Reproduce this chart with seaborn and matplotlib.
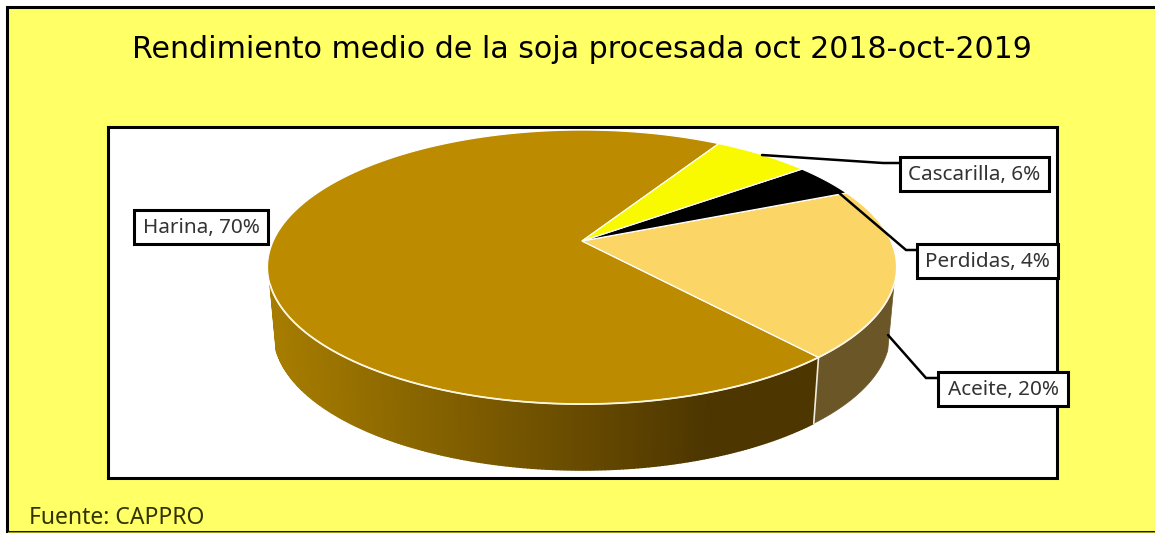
# Rendimiento medio de la soja - pie 3D hecho a mano sobre ax.pie
import numpy as np
import seaborn as sns
import matplotlib.pyplot as plt
from matplotlib.colors import LinearSegmentedColormap
from matplotlib.patches import Polygon, Rectangle

categorias = ['Harina', 'Aceite', 'Perdidas', 'Cascarilla']
valores = [70, 20, 4, 6]
colores = ['#BC8B00', '#FBD566', '#000000', '#F9F900']
color_lateral_aceite = '#6B5628'
titulo = 'Rendimiento medio de la soja procesada oct 2018-oct-2019'
fuente = 'Fuente: CAPPRO'

sns.set_theme(style='white')
plt.rcParams['font.family'] = ['DejaVu Sans']

W, H = 1155, 533
fig = plt.figure(figsize=(W / 100, H / 100), dpi=100, facecolor='white')
ax = fig.add_axes([0, 0, 1, 1])
ax.set_xlim(0, W)
ax.set_ylim(H, 0)
ax.axis('off')

# el pie real, solo para sacar los angulos de cada porcion
aux = fig.add_axes([0, 0, 0.1, 0.1])
wedges, _ = aux.pie(valores, colors=colores, startangle=59)
angulos = [(w.theta1, w.theta2) for w in wedges]
aux.set_visible(False)


# perspectiva: circulo unidad -> elipse en pixeles, con el centro desplazado
def proyectar(theta):
    t = np.radians(theta)
    u, v = np.cos(t), np.sin(t)
    w = 1 + 0.19 * v
    return 582 + 308.8 * u / w, (241 - 86.3 * v) / w


def borde_inferior(x, y):
    return 582 + (x - 582) * 0.98, y + 66


# fondo
ax.add_patch(Rectangle((7, 7), W, H - 8, fc='#FFFF66', ec='black', lw=2.2, zorder=0))
ax.plot([8, W], [532, 532], color='#99992E', lw=1, zorder=1)
ax.add_patch(Rectangle((108, 127), 949, 351, fc='white', ec='black', lw=2.2, zorder=1))

# pared lateral de harina con degradado segun x
t1_har, t2_har = angulos[0]
ts = np.linspace(198, t2_har, 200)
degradado = LinearSegmentedColormap.from_list('lateral', sns.blend_palette(['#A67C00', '#4D3600'], n_colors=8))
for i in range(len(ts) - 1):
    x, y = proyectar(np.array([ts[i], ts[i + 1]]))
    xb, yb = borde_inferior(x, y)
    c = degradado(np.clip((x.mean() - 275) / (710 - 275), 0, 1))
    pts = np.column_stack([np.r_[x, xb[::-1]], np.r_[y, yb[::-1]]])
    ax.add_patch(Polygon(pts, fc=c, ec=c, lw=1, zorder=2))

# pared lateral de aceite
t_ac = np.linspace(angulos[1][0], 342, 30)
x, y = proyectar(t_ac)
xb, yb = borde_inferior(x, y)
pts = np.column_stack([np.r_[x, xb[::-1]], np.r_[y, yb[::-1]]])
ax.add_patch(Polygon(pts, fc=color_lateral_aceite, ec=color_lateral_aceite, lw=0.5, zorder=2))

# linea blanca entre las dos paredes
x0, y0 = proyectar(np.array([t2_har]))
xb0, yb0 = borde_inferior(x0, y0)
ax.plot([x0[0], xb0[0]], [y0[0], yb0[0]], color='#EDEDE0', lw=1.2, zorder=3)

# cara superior
for (t1, t2), c in zip(angulos, colores):
    x, y = proyectar(np.linspace(t1, t2, 200))
    pts = np.column_stack([np.r_[582, x], np.r_[241, y]])
    ax.add_patch(Polygon(pts, fc=c, ec='white', lw=0.9, zorder=4))

# filo blanco delantero
x, y = proyectar(np.linspace(198, 342, 150))
ax.plot(x, y, color='#FBF6E0', lw=1.3, zorder=5)

# etiquetas con linea guia
etiquetas = [
    (categorias[0], (134, 210, 134, 34), None),
    (categorias[3], (900, 157, 149, 34), [(762, 155), (883, 163), (900, 163)]),
    (categorias[2], (917, 244, 141, 34), [(838, 192), (906, 250), (917, 250)]),
    (categorias[1], (938, 372, 130, 34), [(888, 335), (926, 378), (938, 378)]),
]
for nombre, (bx, by, bw, bh), guia in etiquetas:
    if guia:
        ax.plot(*zip(*guia), color='black', lw=1.8, zorder=6, solid_joinstyle='miter')
    ax.add_patch(Rectangle((bx, by), bw, bh, fc='white', ec='black', lw=2.2, zorder=7))
    val = valores[categorias.index(nombre)]
    ax.text(bx + bw / 2, by + bh / 2 + 1, f'{nombre}, {val}%', ha='center', va='center',
            fontsize=14.9, color='#333333', family='Noto Sans', zorder=8)

ax.text(582, 50, titulo, ha='center', va='center', fontsize=21.6, color='black', zorder=8)
ax.text(29, 518, fuente, ha='left', va='center', fontsize=16.5, color='#333300', family='Noto Sans', zorder=8)

fig.savefig('out.png', dpi=100, facecolor='white')
